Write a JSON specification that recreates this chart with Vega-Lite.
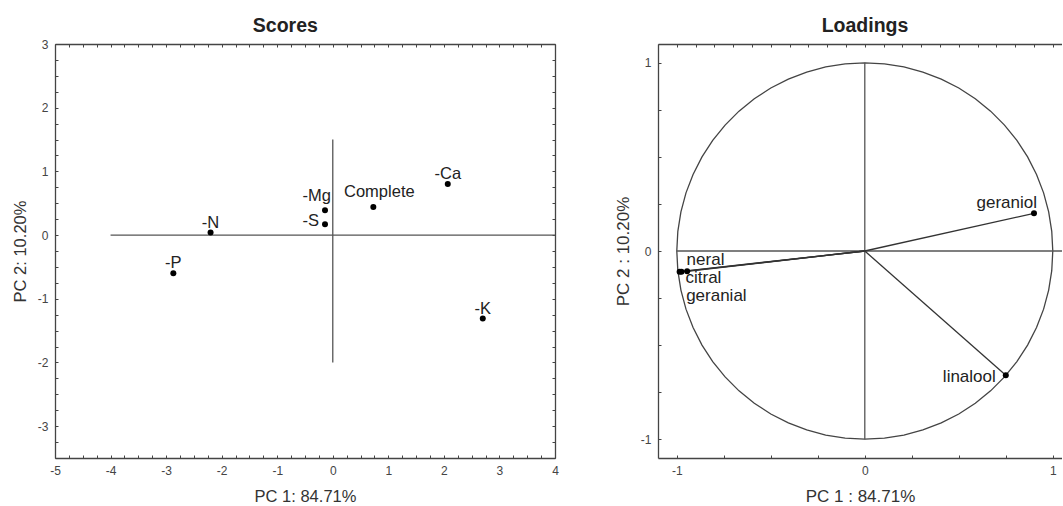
{
  "$schema": "https://vega.github.io/schema/vega-lite/v6.json",
  "padding": {"left": 12, "top": 15, "right": 0, "bottom": 0},
  "spacing": 55,
  "datasets": {
    "scores": [
      {"label": "-P", "x": -2.87, "y": -0.6},
      {"label": "-N", "x": -2.2, "y": 0.04},
      {"label": "-Mg", "x": -0.14, "y": 0.39},
      {"label": "-S", "x": -0.14, "y": 0.17},
      {"label": "Complete", "x": 0.73, "y": 0.44},
      {"label": "-Ca", "x": 2.07, "y": 0.8},
      {"label": "-K", "x": 2.7, "y": -1.31}
    ],
    "scoreRefs": [
      {"x": -4, "x2": 4, "y": 0, "y2": 0},
      {"x": 0, "x2": 0, "y": -2, "y2": 1.5}
    ],
    "loadings": [
      {"label": "geraniol", "x": 0.9, "y": 0.2},
      {"label": "linalool", "x": 0.75, "y": -0.66},
      {"label": "neral", "x": -0.985, "y": -0.11},
      {"label": "citral", "x": -0.975, "y": -0.11},
      {"label": "geranial", "x": -0.945, "y": -0.108}
    ],
    "loadRefs": [
      {"x": -1, "x2": 1.1, "y": 0, "y2": 0},
      {"x": 0, "x2": 0, "y": -1, "y2": 1}
    ],
    "circle": [
      {"i": 0, "x": 1, "y": 0}, {"i": 1, "x": 0.9945, "y": 0.1045}, {"i": 2, "x": 0.9781, "y": 0.2079},
      {"i": 3, "x": 0.9511, "y": 0.309}, {"i": 4, "x": 0.9135, "y": 0.4067}, {"i": 5, "x": 0.866, "y": 0.5},
      {"i": 6, "x": 0.809, "y": 0.5878}, {"i": 7, "x": 0.7431, "y": 0.6691}, {"i": 8, "x": 0.6691, "y": 0.7431},
      {"i": 9, "x": 0.5878, "y": 0.809}, {"i": 10, "x": 0.5, "y": 0.866}, {"i": 11, "x": 0.4067, "y": 0.9135},
      {"i": 12, "x": 0.309, "y": 0.9511}, {"i": 13, "x": 0.2079, "y": 0.9781}, {"i": 14, "x": 0.1045, "y": 0.9945},
      {"i": 15, "x": 0, "y": 1}, {"i": 16, "x": -0.1045, "y": 0.9945}, {"i": 17, "x": -0.2079, "y": 0.9781},
      {"i": 18, "x": -0.309, "y": 0.9511}, {"i": 19, "x": -0.4067, "y": 0.9135}, {"i": 20, "x": -0.5, "y": 0.866},
      {"i": 21, "x": -0.5878, "y": 0.809}, {"i": 22, "x": -0.6691, "y": 0.7431}, {"i": 23, "x": -0.7431, "y": 0.6691},
      {"i": 24, "x": -0.809, "y": 0.5878}, {"i": 25, "x": -0.866, "y": 0.5}, {"i": 26, "x": -0.9135, "y": 0.4067},
      {"i": 27, "x": -0.9511, "y": 0.309}, {"i": 28, "x": -0.9781, "y": 0.2079}, {"i": 29, "x": -0.9945, "y": 0.1045},
      {"i": 30, "x": -1, "y": 0}, {"i": 31, "x": -0.9945, "y": -0.1045}, {"i": 32, "x": -0.9781, "y": -0.2079},
      {"i": 33, "x": -0.9511, "y": -0.309}, {"i": 34, "x": -0.9135, "y": -0.4067}, {"i": 35, "x": -0.866, "y": -0.5},
      {"i": 36, "x": -0.809, "y": -0.5878}, {"i": 37, "x": -0.7431, "y": -0.6691}, {"i": 38, "x": -0.6691, "y": -0.7431},
      {"i": 39, "x": -0.5878, "y": -0.809}, {"i": 40, "x": -0.5, "y": -0.866}, {"i": 41, "x": -0.4067, "y": -0.9135},
      {"i": 42, "x": -0.309, "y": -0.9511}, {"i": 43, "x": -0.2079, "y": -0.9781}, {"i": 44, "x": -0.1045, "y": -0.9945},
      {"i": 45, "x": 0, "y": -1}, {"i": 46, "x": 0.1045, "y": -0.9945}, {"i": 47, "x": 0.2079, "y": -0.9781},
      {"i": 48, "x": 0.309, "y": -0.9511}, {"i": 49, "x": 0.4067, "y": -0.9135}, {"i": 50, "x": 0.5, "y": -0.866},
      {"i": 51, "x": 0.5878, "y": -0.809}, {"i": 52, "x": 0.6691, "y": -0.7431}, {"i": 53, "x": 0.7431, "y": -0.6691},
      {"i": 54, "x": 0.809, "y": -0.5878}, {"i": 55, "x": 0.866, "y": -0.5}, {"i": 56, "x": 0.9135, "y": -0.4067},
      {"i": 57, "x": 0.9511, "y": -0.309}, {"i": 58, "x": 0.9781, "y": -0.2079}, {"i": 59, "x": 0.9945, "y": -0.1045},
      {"i": 60, "x": 1, "y": 0}
    ]
  },
  "hconcat": [
    {
      "width": 500,
      "height": 414,
      "title": {"text": "Scores", "fontSize": 19.5, "fontWeight": "bold", "font": "Liberation Sans", "color": "#222", "anchor": "middle", "frame": "bounds", "offset": 2},
      "resolve": {"axis": {"x": "independent", "y": "independent"}},
      "layer": [
        {
          "data": {"name": "scoreRefs"},
          "mark": {"type": "rule", "color": "#555", "strokeWidth": 1.3},
          "encoding": {
            "x": {"field": "x", "type": "quantitative", "scale": {"domain": [-5, 4], "nice": false, "zero": false},
              "axis": {"orient": "bottom", "title": "PC 1: 84.71%", "titlePadding": 12,
                "values": [-5,-4.75,-4.5,-4.25,-4,-3.75,-3.5,-3.25,-3,-2.75,-2.5,-2.25,-2,-1.75,-1.5,-1.25,-1,-0.75,-0.5,-0.25,0,0.25,0.5,0.75,1,1.25,1.5,1.75,2,2.25,2.5,2.75,3,3.25,3.5,3.75,4],
                "labelExpr": "datum.value % 1 === 0 ? '' + datum.value : ''"}},
            "y": {"field": "y", "type": "quantitative", "scale": {"domain": [-3.5, 3], "nice": false, "zero": false},
              "axis": {"orient": "left", "title": "PC 2: 10.20%", "titlePadding": 9,
                "values": [-3.5,-3.25,-3,-2.75,-2.5,-2.25,-2,-1.75,-1.5,-1.25,-1,-0.75,-0.5,-0.25,0,0.25,0.5,0.75,1,1.25,1.5,1.75,2,2.25,2.5,2.75,3],
                "labelExpr": "datum.value % 1 === 0 ? '' + datum.value : ''"}},
            "x2": {"field": "x2"},
            "y2": {"field": "y2"}
          }
        },
        {
          "data": {"name": "scores"},
          "mark": {"type": "point", "filled": true, "shape": "circle", "color": "#000", "opacity": 1, "size": 36},
          "encoding": {
            "x": {"field": "x", "type": "quantitative", "scale": {"domain": [-5, 4], "nice": false, "zero": false},
              "axis": {"orient": "top", "title": null, "labels": false,
                "values": [-5,-4.75,-4.5,-4.25,-4,-3.75,-3.5,-3.25,-3,-2.75,-2.5,-2.25,-2,-1.75,-1.5,-1.25,-1,-0.75,-0.5,-0.25,0,0.25,0.5,0.75,1,1.25,1.5,1.75,2,2.25,2.5,2.75,3,3.25,3.5,3.75,4]}},
            "y": {"field": "y", "type": "quantitative", "scale": {"domain": [-3.5, 3], "nice": false, "zero": false},
              "axis": {"orient": "right", "title": null, "labels": false,
                "values": [-3.5,-3.25,-3,-2.75,-2.5,-2.25,-2,-1.75,-1.5,-1.25,-1,-0.75,-0.5,-0.25,0,0.25,0.5,0.75,1,1.25,1.5,1.75,2,2.25,2.5,2.75,3]}}
          }
        },
        {
          "data": {"name": "scores"},
          "transform": [{"filter": "indexof(['-P','-N','-Ca','-K'], datum.label) >= 0"}],
          "mark": {"type": "text", "align": "center", "baseline": "alphabetic", "dy": -5, "fontSize": 16.5, "font": "Liberation Sans", "color": "#222"},
          "encoding": {
            "x": {"field": "x", "type": "quantitative", "scale": {"domain": [-5, 4], "nice": false, "zero": false}, "axis": null},
            "y": {"field": "y", "type": "quantitative", "scale": {"domain": [-3.5, 3], "nice": false, "zero": false}, "axis": null},
            "text": {"field": "label"}
          }
        },
        {
          "data": {"name": "scores"},
          "transform": [{"filter": "datum.label === 'Complete'"}],
          "mark": {"type": "text", "align": "center", "baseline": "alphabetic", "dx": 6, "dy": -10, "fontSize": 16.5, "font": "Liberation Sans", "color": "#222"},
          "encoding": {
            "x": {"field": "x", "type": "quantitative", "scale": {"domain": [-5, 4], "nice": false, "zero": false}, "axis": null},
            "y": {"field": "y", "type": "quantitative", "scale": {"domain": [-3.5, 3], "nice": false, "zero": false}, "axis": null},
            "text": {"field": "label"}
          }
        },
        {
          "data": {"name": "scores"},
          "transform": [{"filter": "datum.label === '-Mg'"}],
          "mark": {"type": "text", "align": "right", "baseline": "alphabetic", "dx": 6, "dy": -9, "fontSize": 16.5, "font": "Liberation Sans", "color": "#222"},
          "encoding": {
            "x": {"field": "x", "type": "quantitative", "scale": {"domain": [-5, 4], "nice": false, "zero": false}, "axis": null},
            "y": {"field": "y", "type": "quantitative", "scale": {"domain": [-3.5, 3], "nice": false, "zero": false}, "axis": null},
            "text": {"field": "label"}
          }
        },
        {
          "data": {"name": "scores"},
          "transform": [{"filter": "datum.label === '-S'"}],
          "mark": {"type": "text", "align": "right", "baseline": "alphabetic", "dx": -6, "dy": 2, "fontSize": 16.5, "font": "Liberation Sans", "color": "#222"},
          "encoding": {
            "x": {"field": "x", "type": "quantitative", "scale": {"domain": [-5, 4], "nice": false, "zero": false}, "axis": null},
            "y": {"field": "y", "type": "quantitative", "scale": {"domain": [-3.5, 3], "nice": false, "zero": false}, "axis": null},
            "text": {"field": "label"}
          }
        }
      ]
    },
    {
      "width": 404,
      "height": 414,
      "title": {"text": "Loadings", "fontSize": 19.5, "fontWeight": "bold", "font": "Liberation Sans", "color": "#222", "anchor": "middle", "frame": "group", "dx": 5, "offset": 7},
      "resolve": {"axis": {"x": "independent", "y": "independent"}},
      "layer": [
        {
          "data": {"name": "circle"},
          "mark": {"type": "line", "color": "#444", "strokeWidth": 1.3, "clip": true},
          "encoding": {
            "x": {"field": "x", "type": "quantitative", "scale": {"domain": [-1.1, 1.049], "nice": false, "zero": false},
              "axis": {"orient": "bottom", "title": "PC 1 : 84.71%", "titlePadding": 12, "titleFontSize": 17,
                "values": [-1,-0.75,-0.5,-0.25,0,0.25,0.5,0.75,1],
                "labelExpr": "datum.value % 1 === 0 ? '' + datum.value : ''"}},
            "y": {"field": "y", "type": "quantitative", "scale": {"domain": [-1.1, 1.1], "nice": false, "zero": false},
              "axis": {"orient": "left", "title": "PC 2 : 10.20%", "titlePadding": 8, "titleFontSize": 17,
                "values": [-1,-0.75,-0.5,-0.25,0,0.25,0.5,0.75,1],
                "labelExpr": "datum.value % 1 === 0 ? '' + datum.value : ''"}},
            "order": {"field": "i", "type": "quantitative"}
          }
        },
        {
          "data": {"name": "loadRefs"},
          "mark": {"type": "rule", "color": "#555", "strokeWidth": 1.3, "clip": true},
          "encoding": {
            "x": {"field": "x", "type": "quantitative", "scale": {"domain": [-1.1, 1.049], "nice": false, "zero": false},
              "axis": {"orient": "top", "title": null, "labels": false,
                "values": [-1.1,-1,-0.9,-0.8,-0.7,-0.6,-0.5,-0.4,-0.3,-0.2,-0.1,0,0.1,0.2,0.3,0.4,0.5,0.6,0.7,0.8,0.9,1]}},
            "y": {"field": "y", "type": "quantitative", "scale": {"domain": [-1.1, 1.1], "nice": false, "zero": false}, "axis": null},
            "x2": {"field": "x2"},
            "y2": {"field": "y2"}
          }
        },
        {
          "data": {"name": "loadings"},
          "mark": {"type": "rule", "color": "#333", "strokeWidth": 1.3},
          "encoding": {
            "x": {"field": "x", "type": "quantitative", "scale": {"domain": [-1.1, 1.049], "nice": false, "zero": false}, "axis": null},
            "y": {"field": "y", "type": "quantitative", "scale": {"domain": [-1.1, 1.1], "nice": false, "zero": false}, "axis": null},
            "x2": {"datum": 0},
            "y2": {"datum": 0}
          }
        },
        {
          "data": {"name": "loadings"},
          "mark": {"type": "point", "filled": true, "shape": "circle", "color": "#000", "opacity": 1, "size": 36},
          "encoding": {
            "x": {"field": "x", "type": "quantitative", "scale": {"domain": [-1.1, 1.049], "nice": false, "zero": false}, "axis": null},
            "y": {"field": "y", "type": "quantitative", "scale": {"domain": [-1.1, 1.1], "nice": false, "zero": false}, "axis": null}
          }
        },
        {
          "data": {"name": "loadings"},
          "transform": [{"filter": "datum.label === 'geraniol'"}],
          "mark": {"type": "text", "align": "right", "baseline": "alphabetic", "dx": 3, "dy": -5, "fontSize": 17, "font": "Liberation Sans", "color": "#222"},
          "encoding": {
            "x": {"field": "x", "type": "quantitative", "scale": {"domain": [-1.1, 1.049], "nice": false, "zero": false}, "axis": null},
            "y": {"field": "y", "type": "quantitative", "scale": {"domain": [-1.1, 1.1], "nice": false, "zero": false}, "axis": null},
            "text": {"field": "label"}
          }
        },
        {
          "data": {"name": "loadings"},
          "transform": [{"filter": "datum.label === 'linalool'"}],
          "mark": {"type": "text", "align": "right", "baseline": "alphabetic", "dx": -10, "dy": 6.5, "fontSize": 17, "font": "Liberation Sans", "color": "#222"},
          "encoding": {
            "x": {"field": "x", "type": "quantitative", "scale": {"domain": [-1.1, 1.049], "nice": false, "zero": false}, "axis": null},
            "y": {"field": "y", "type": "quantitative", "scale": {"domain": [-1.1, 1.1], "nice": false, "zero": false}, "axis": null},
            "text": {"field": "label"}
          }
        },
        {
          "data": {"name": "loadings"},
          "transform": [{"filter": "datum.label === 'neral'"}],
          "mark": {"type": "text", "align": "left", "baseline": "alphabetic", "dx": 7, "dy": -7, "fontSize": 17, "font": "Liberation Sans", "color": "#222"},
          "encoding": {
            "x": {"field": "x", "type": "quantitative", "scale": {"domain": [-1.1, 1.049], "nice": false, "zero": false}, "axis": null},
            "y": {"field": "y", "type": "quantitative", "scale": {"domain": [-1.1, 1.1], "nice": false, "zero": false}, "axis": null},
            "text": {"field": "label"}
          }
        },
        {
          "data": {"name": "loadings"},
          "transform": [{"filter": "datum.label === 'citral'"}],
          "mark": {"type": "text", "align": "left", "baseline": "alphabetic", "dx": 4, "dy": 11.5, "fontSize": 17, "font": "Liberation Sans", "color": "#222"},
          "encoding": {
            "x": {"field": "x", "type": "quantitative", "scale": {"domain": [-1.1, 1.049], "nice": false, "zero": false}, "axis": null},
            "y": {"field": "y", "type": "quantitative", "scale": {"domain": [-1.1, 1.1], "nice": false, "zero": false}, "axis": null},
            "text": {"field": "label"}
          }
        },
        {
          "data": {"name": "loadings"},
          "transform": [{"filter": "datum.label === 'geranial'"}],
          "mark": {"type": "text", "align": "left", "baseline": "alphabetic", "dx": -1, "dy": 29.5, "fontSize": 17, "font": "Liberation Sans", "color": "#222"},
          "encoding": {
            "x": {"field": "x", "type": "quantitative", "scale": {"domain": [-1.1, 1.049], "nice": false, "zero": false}, "axis": null},
            "y": {"field": "y", "type": "quantitative", "scale": {"domain": [-1.1, 1.1], "nice": false, "zero": false}, "axis": null},
            "text": {"field": "label"}
          }
        }
      ]
    }
  ],
  "config": {
    "view": {"stroke": null},
    "font": "Liberation Sans",
    "axis": {
      "grid": false,
      "domainColor": "#444",
      "domainWidth": 1.3,
      "tickColor": "#444",
      "tickSize": -3,
      "tickWidth": 1,
      "labelPadding": 10,
      "labelColor": "#444",
      "labelFont": "Liberation Sans",
      "labelFontSize": 12,
      "labelFlush": false,
      "labelOverlap": false,
      "titleFont": "Liberation Sans",
      "titleFontWeight": "normal",
      "titleFontSize": 16.5,
      "titleColor": "#333"
    }
  }
}
